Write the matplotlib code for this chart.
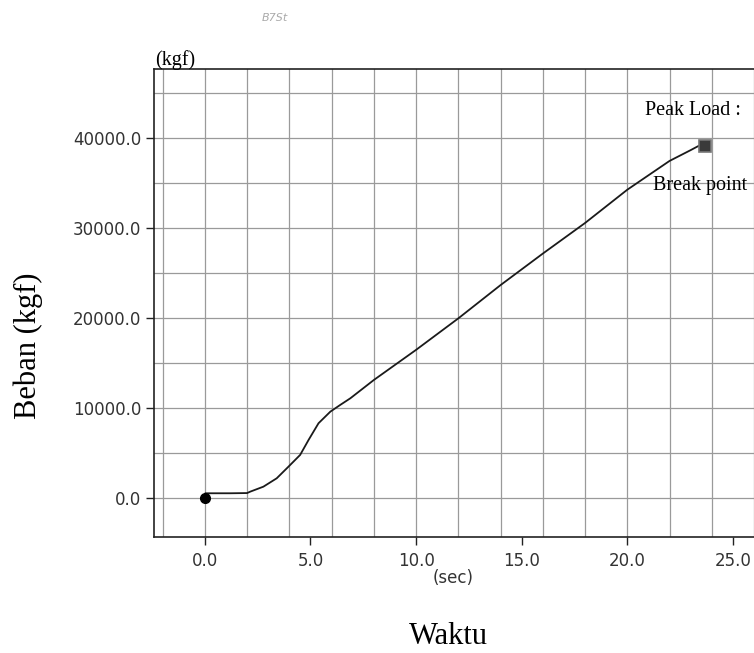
import matplotlib.pyplot as plt
import numpy as np

# load curve from the tensile test
time_sec = [0.0, 0.02, 1.2, 2.0, 2.14, 2.77, 3.4, 3.96, 4.51, 4.91, 5.38, 5.94,
            6.41, 6.89, 8.0, 10.0, 12.0, 14.0, 16.0, 18.0, 20.0, 22.0, 23.0, 23.4, 23.7]
load_kgf = [0, 556, 556, 580, 730, 1290, 2220, 3520, 4820, 6490, 8340, 9630,
            10380, 11120, 13150, 16500, 20000, 23700, 27200, 30600, 34300, 37500, 38700, 39200, 39200]

peak_time = 23.7
peak_load = 39200

x_ticks = [0.0, 5.0, 10.0, 15.0, 20.0, 25.0]
y_ticks = [0.0, 10000.0, 20000.0, 30000.0, 40000.0]

fig = plt.figure(figsize=(7.54, 6.53), dpi=100)
ax = fig.add_axes([154 / 754, 1 - 537 / 653, 1 - 154 / 754, (537 - 69) / 653])

# grid every 2 s and every 5000 kgf
for gx in np.arange(-2, 27, 2):
    ax.axvline(gx, color='#9a9a9a', lw=0.9, zorder=0)
for gy in np.arange(0, 47000, 5000):
    ax.axhline(gy, color='#9a9a9a', lw=0.9, zorder=0)

ax.plot(time_sec, load_kgf, color='#1a1a1a', lw=1.3, zorder=3)
ax.plot([time_sec[0]], [load_kgf[0]], 'o', color='black', ms=7, zorder=4)
ax.plot([peak_time], [peak_load], 's', ms=8, mfc='#3a3a3a', mec='#777777', mew=1.2, zorder=4)

ax.set_xlim(-2.41, 26.0)
ax.set_ylim(-4305, 47720)

ax.set_xticks(x_ticks)
ax.set_xticklabels([f'{v:.1f}' for v in x_ticks])
ax.set_yticks(y_ticks)
ax.set_yticklabels([f'{v:.1f}' for v in y_ticks])
ax.tick_params(axis='both', direction='out', length=6, width=1, colors='#222222',
               labelsize=12, labelcolor='#333333')
ax.tick_params(axis='x', pad=5)
ax.tick_params(axis='y', pad=3)

ax.spines['right'].set_visible(False)
for s in ['left', 'bottom', 'top']:
    ax.spines[s].set_color('#222222')
    ax.spines[s].set_linewidth(1.2)

serif = 'Liberation Serif'
ax.text(20.83, 43100, 'Peak Load :', family=serif, fontsize=14.5,
        va='center', ha='left', clip_on=True)
ax.text(21.2, 34800, 'Break point', family=serif, fontsize=14.5,
        va='center', ha='left', clip_on=True)

fig.text(155 / 754, 1 - 60 / 653, '(kgf)', family=serif, fontsize=14.5,
         ha='left', va='center')
fig.text(453 / 754, 1 - 578 / 653, '(sec)', fontsize=12, color='#333333',
         ha='center', va='center')
fig.text(448 / 754, 1 - 636 / 653, 'Waktu', family=serif, fontsize=22,
         ha='center', va='center')
fig.text(28 / 754, 1 - 346 / 653, 'Beban (kgf)', family=serif, fontsize=22,
         rotation=90, ha='center', va='center')
fig.text(275 / 754, 1 - 18 / 653, 'B7St', fontsize=8, color='#aaaaaa',
         style='italic', ha='center', va='center')

fig.savefig('out.png', dpi=100)
